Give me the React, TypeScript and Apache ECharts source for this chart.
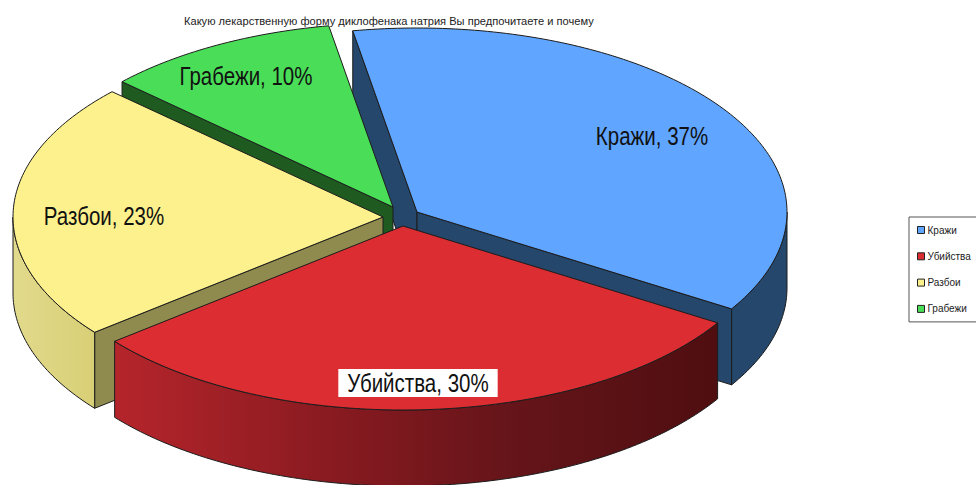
import React, { useEffect, useRef } from "react";
import * as echarts from "echarts";

const titleText = "Какую лекарственную форму диклофенака натрия Вы предпочитаете и почему";
const categories = ["Кражи", "Убийства", "Разбои", "Грабежи"];
const shares = [36.6, 30.4, 22.7, 10.3];

const topColors = ["#60a5ff", "#dc2d32", "#fcf18c", "#4ade58"];
const cutColors = ["#24476b", "#6a1517", "#8f8a4e", "#1f5a20"];
const rimColors: any[] = [
  "#24476b",
  { type: "linear", x: 0, y: 0, x2: 1, y2: 0, colorStops: [
    { offset: 0, color: "#b5252b" }, { offset: 0.38, color: "#861a20" },
    { offset: 0.65, color: "#66151a" }, { offset: 1, color: "#4f0e10" } ] },
  { type: "linear", x: 0, y: 0, x2: 1, y2: 0, colorStops: [
    { offset: 0, color: "#e2da8c" }, { offset: 1, color: "#d8cf76" } ] },
  "#1f5a20",
];
const centers = [[417, 212], [403, 226], [383, 217], [393, 207]];
const labelSpots = [[652, 136], [418, 383], [104, 216], [246, 76]];
const drawOrder = [1, 4, 3, 2];
const RX = 370, RY = 184, DEPTH = 76, START = -10;
const STROKE = "#1c1c1c";

const total = shares.reduce((s, v) => s + v, 0);
const rad = (d: number) => (d * Math.PI) / 180;

function arc(c: number[], t0: number, t1: number, dy = 0) {
  const n = Math.max(2, Math.ceil(Math.abs(t1 - t0)));
  const pts: number[][] = [];
  for (let i = 0; i <= n; i++) {
    const t = rad(t0 + ((t1 - t0) * i) / n);
    pts.push([c[0] + RX * Math.sin(t), c[1] - RY * Math.cos(t) + dy]);
  }
  return pts;
}

function wall(c: number[], t: number, fill: string) {
  const p = arc(c, t, t)[0];
  return {
    type: "polygon", silent: true,
    shape: { points: [c, p, [p[0], p[1] + DEPTH], [c[0], c[1] + DEPTH]] },
    style: { fill, stroke: STROKE, lineWidth: 1 },
  };
}

function renderSlice(index: number) {
  return (_params: any, api: any) => {
    const before = shares.slice(0, index).reduce((s, v) => s + v, 0);
    const t0 = START + (before / total) * 360;
    const t1 = t0 + (api.value(0) / total) * 360;
    const c = centers[index];
    const children: any[] = [];
    if (Math.sin(rad(t0)) < 0) children.push(wall(c, t0, cutColors[index]));
    if (Math.sin(rad(t1)) > 0) children.push(wall(c, t1, cutColors[index]));
    const r0 = Math.max(t0, 90), r1 = Math.min(t1, 270);
    if (r1 > r0) {
      children.push({
        type: "polygon", silent: true,
        shape: { points: [...arc(c, r0, r1), ...arc(c, r1, r0, DEPTH)] },
        style: { fill: rimColors[index], stroke: STROKE, lineWidth: 1 },
      });
    }
    children.push({
      type: "polygon", silent: true,
      shape: { points: [c, ...arc(c, t0, t1)] },
      style: { fill: topColors[index], stroke: STROKE, lineWidth: 1 },
    });
    const boxed = categories[index] === "Убийства";
    children.push({
      type: "text", silent: true,
      x: labelSpots[index][0], y: labelSpots[index][1], scaleX: 0.82,
      style: {
        text: `${categories[index]}, ${Math.round(api.value(0))}%`,
        fill: "#111", fontSize: 25, fontFamily: "'Liberation Sans'",
        align: "center", verticalAlign: "middle",
        ...(boxed ? { backgroundColor: "#fff", padding: [2, 11, 1, 11] } : {}),
      },
    });
    return { type: "group", children };
  };
}

export default function App() {
  const ref = useRef<HTMLDivElement>(null);
  useEffect(() => {
    const chart = echarts.init(ref.current!, null, { renderer: "svg" });
    chart.setOption({
      animation: false,
      backgroundColor: "#fff",
      title: {
        text: titleText, left: 184, top: 15, padding: 0,
        textStyle: { fontSize: 11.1, fontWeight: "normal", color: "#222", fontFamily: "'Liberation Sans'" },
      },
      legend: {
        data: categories, orient: "vertical", left: 909, top: 217,
        padding: [8, 30, 8, 8], itemWidth: 7, itemHeight: 7, itemGap: 16.3, icon: "rect",
        borderColor: "#555", borderWidth: 1, selectedMode: false,
        itemStyle: { borderColor: "#222", borderWidth: 1 },
        textStyle: { fontSize: 10, color: "#222", padding: [0, 0, 0, -2], fontFamily: "'Liberation Sans'" },
      },
      series: categories.map((name, i) => ({
        type: "custom", name, coordinateSystem: "none", z: drawOrder[i] + 1, silent: true,
        itemStyle: { color: topColors[i] },
        renderItem: renderSlice(i),
        data: [[shares[i]]],
      })),
    });
    return () => chart.dispose();
  }, []);
  return <div ref={ref} style={{ position: "fixed", left: 0, top: 0, width: 976, height: 485 }} />;
}
